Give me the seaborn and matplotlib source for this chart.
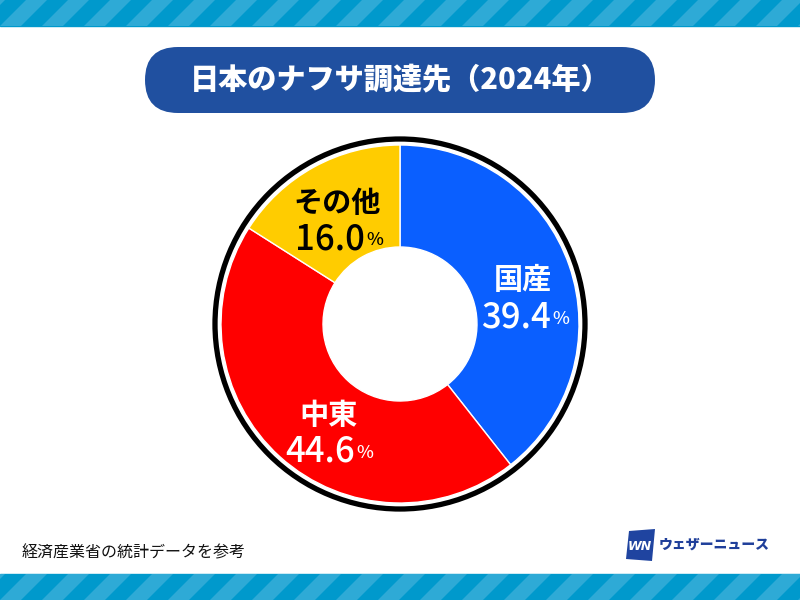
import matplotlib
matplotlib.use('Agg')
import matplotlib.pyplot as plt
import matplotlib.patches as mpatches
import seaborn as sns

sns.set_theme(style='white')
plt.rcParams['font.family'] = ['Noto Sans CJK JP', 'DejaVu Sans']

# データ
sources = ['国産', '中東', 'その他']
shares = [39.4, 44.6, 16.0]
share_labels = ['39.4', '44.6', '16.0']
colors = ['#0a5fff', '#ff0000', '#ffcc00']
label_colors = ['white', 'white', 'black']

title = '日本のナフサ調達先（2024年）'
source_note = '経済産業省の統計データを参考'
brand = 'ウェザーニュース'

W, H = 800, 600
fig = plt.figure(figsize=(8, 6), dpi=100)
ax = fig.add_axes([0, 0, 1, 1])

def py(y):
    # ピクセル座標(上から)を軸座標に
    return H - y

# ドーナツ
cx, cy = 400, py(324)
wedges, _ = ax.pie(shares, colors=colors, startangle=90, counterclock=False,
                   radius=179, center=(cx, cy),
                   wedgeprops=dict(width=102, edgecolor='white', linewidth=1))
ax.set_xlim(0, W)
ax.set_ylim(0, H)
ax.set_aspect('equal')
ax.axis('off')

ring = mpatches.Circle((cx, cy), 185, fill=False, edgecolor='black', linewidth=3.8)
ax.add_patch(ring)

# ラベル
name_pos = [(523, 280), (329, 415), (337, 203)]
num_pos = [(551, 314), (355, 448), (365, 235)]
for i, name in enumerate(sources):
    nx, ny = name_pos[i]
    ax.text(nx, py(ny), name, ha='center', va='center', fontsize=21,
            color=label_colors[i], fontweight='bold')
    mx, my = num_pos[i]
    ax.text(mx, py(my), share_labels[i], ha='right', va='center_baseline', fontsize=25,
            color=label_colors[i], fontweight='medium')
    ax.text(mx + 1, py(my + 3), '%', ha='left', va='center_baseline', fontsize=13,
            color=label_colors[i], fontweight='medium')

# 上下のストライプ帯
for y0, y1 in [(0, 26), (574, 600)]:
    ax.add_patch(mpatches.Rectangle((0, py(y1)), W, y1 - y0, color='#0099cc', zorder=0))
    h = y1 - y0
    for k in range(-2, 22):
        x0 = k * 42
        poly = [(x0, py(y1)), (x0 + 21, py(y1)), (x0 + 21 + h, py(y0)), (x0 + h, py(y0))]
        ax.add_patch(mpatches.Polygon(poly, closed=True, color='#2eaad6', zorder=0,
                                      linewidth=0))

# タイトル
banner = mpatches.FancyBboxPatch((145 + 33, py(113) + 33), 510 - 66, 0,
                                 boxstyle='round,pad=33,rounding_size=33',
                                 facecolor='#2050a0', edgecolor='none')
ax.add_patch(banner)
ax.text(400, py(80), title, ha='center', va='center', fontsize=21,
        fontweight='heavy', color='white')

# 出典
ax.text(22, py(553), source_note, ha='left', va='center', fontsize=11.5, color='#111111')

# ロゴ
logo = mpatches.Polygon([(629, py(531)), (655, py(529)), (652, py(561)), (626, py(559))],
                        closed=True, facecolor='#1f44a0', edgecolor='none')
ax.add_patch(logo)
ax.text(640, py(547), 'WN', ha='center', va='center', fontsize=9, fontweight='bold',
        color='white', style='italic', family=['DejaVu Sans'])
ax.text(659, py(545), brand, ha='left', va='center', fontsize=10, fontweight='heavy',
        color='#1f3f9a')

fig.savefig('out.png', dpi=100)
